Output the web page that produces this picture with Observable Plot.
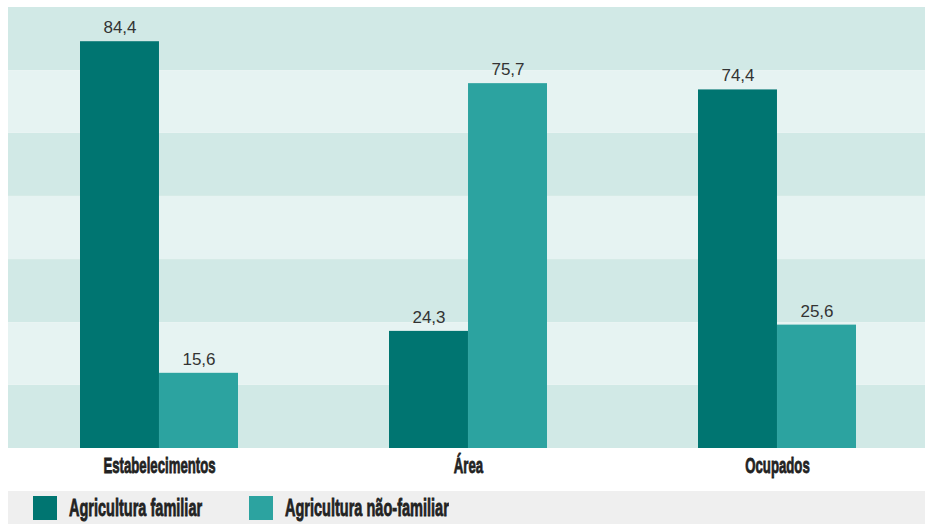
<!DOCTYPE html>
<html><head><meta charset="utf-8">
<script src="https://cdn.jsdelivr.net/npm/d3@7"></script>
<script src="https://cdn.jsdelivr.net/npm/@observablehq/plot@0.6"></script>
<style>
body{margin:0;background:#fff;}
#chart svg{display:block;}
#legend{position:relative;margin-left:8px;width:917px;height:33px;background:#efefef;}
.sw{position:absolute;top:5px;width:24px;height:24px;}
.lt{position:absolute;top:5px;font-family:'Liberation Sans',Arial,sans-serif;font-weight:bold;font-size:24px;line-height:24px;color:#222;-webkit-text-stroke:0.8px #222;transform:scaleX(0.605);transform-origin:left top;white-space:nowrap;}
</style></head><body><div id="chart"></div><div id="legend"></div>
<script>
const categories = ["Estabelecimentos", "Área", "Ocupados"];
const series = ["Agricultura familiar", "Agricultura não-familiar"];
const familiar = [84.4, 24.3, 74.4];
const naoFamiliar = [15.6, 75.7, 25.6];
const bandEdges = [0, 13.1, 26.1, 39.2, 52.3, 65.4, 78.4, 91.5];
const seriesColors = ["#007571", "#2ca3a0"];
const bandColors = ["#d1e9e6", "#e6f3f2"];

const fam = categories.map((c, i) => ({cat: c, value: familiar[i]}));
const nfam = categories.map((c, i) => ({cat: c, value: naoFamiliar[i]}));
const bands = bandEdges.slice(1).map((e, i) => ({y1: bandEdges[i], y2: e, k: i % 2}));

const W = 925, H = 491;
const r0 = 10, r1 = 926, pi = 0.4887, po = 0.226;
const step = (r1 - r0) / (categories.length - pi + 2 * po);
const bw = step * (1 - pi);
const fmt = v => d3.format(".1f")(v).replace(".", ",");
const font = "'Liberation Sans',Arial,sans-serif";

const chart = Plot.plot({
  width: W, height: H,
  marginLeft: 8, marginRight: 0, marginTop: 7, marginBottom: 43,
  style: {fontFamily: font, background: "white"},
  x: {domain: categories, range: [r0, r1], paddingInner: pi, paddingOuter: po, align: 0.5},
  y: {domain: [0, bandEdges[bandEdges.length - 1]], axis: null},
  marks: [
    Plot.rect(bands.filter(d => d.k === 0), {y1: "y1", y2: "y2", fill: bandColors[0]}),
    Plot.rect(bands.filter(d => d.k === 1), {y1: "y1", y2: "y2", fill: bandColors[1]}),
    Plot.barY(fam, {x: "cat", y: "value", fill: seriesColors[0], insetRight: bw / 2}),
    Plot.barY(nfam, {x: "cat", y: "value", fill: seriesColors[1], insetLeft: bw / 2}),
    Plot.text(fam, {x: "cat", y: "value", text: d => fmt(d.value), dx: -bw / 4, dy: -14, fontSize: 17, fill: "#333", ariaLabel: "value label"}),
    Plot.text(nfam, {x: "cat", y: "value", text: d => fmt(d.value), dx: bw / 4, dy: -14, fontSize: 17, fill: "#333", ariaLabel: "value label"}),
    Plot.axisX({tickSize: 0, tickPadding: 9, label: null, fontSize: 22, fontWeight: "bold", fill: "#222"})
  ]
});
document.getElementById("chart").appendChild(chart);

function condense(els, s) {
  els.forEach(el => {
    const t = el.getAttribute("transform") || "";
    const xa = el.getAttribute("x");
    if (xa !== null && !t) {
      const x = +xa;
      el.setAttribute("transform", `translate(${x * (1 - s)},0) scale(${s},1)`);
    } else {
      el.setAttribute("transform", t + ` scale(${s},1)`);
    }
  });
}
const axisTexts = chart.querySelectorAll('g[aria-label="x-axis tick label"] text');
axisTexts.forEach(el => { el.style.fill = "#222"; el.style.stroke = "#222"; el.style.strokeWidth = "0.8px"; });
condense(axisTexts, 0.6);
condense(chart.querySelectorAll('g[aria-label="value label"] text'), 0.86);

// legend
const legend = document.getElementById("legend");
const swLeft = [25, 241], txtLeft = [61, 277];
series.forEach((name, i) => {
  const sw = document.createElement("div");
  sw.className = "sw"; sw.style.left = swLeft[i] + "px"; sw.style.background = seriesColors[i];
  const t = document.createElement("div");
  t.className = "lt"; t.style.left = txtLeft[i] + "px"; t.textContent = name;
  legend.appendChild(sw); legend.appendChild(t);
});
</script></body></html>
